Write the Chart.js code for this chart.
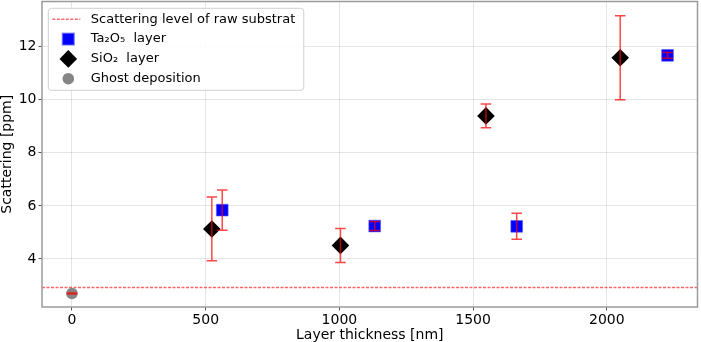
<!DOCTYPE html>
<html>
<head>
<meta charset="utf-8">
<script src="https://cdn.jsdelivr.net/npm/chart.js@4.4.1/dist/chart.umd.min.js"></script>
<style>
  html, body { margin: 0; padding: 0; background: #fff; }
  #wrap { width: 701px; height: 342px; position: relative; }
</style>
</head>
<body>
<div id="wrap"><canvas id="scatterChart"></canvas></div>
<script>
// Scattering [ppm] vs layer thickness [nm]
const TA2O5_THICKNESS = [562, 1132, 1663, 2227];
const TA2O5_SCATTER = [5.84, 5.24, 5.23, 11.67];
const TA2O5_ERR = [0.76, 0.17, 0.49, 0.11];

const SIO2_THICKNESS = [523, 1004, 1548, 2050];
const SIO2_SCATTER = [5.13, 4.51, 9.39, 11.58];
const SIO2_ERR = [1.20, 0.64, 0.45, 1.58];

const GHOST_THICKNESS = [0];
const GHOST_SCATTER = [2.70];
const GHOST_ERR = [0.02];

const SUBSTRATE_LEVEL = 2.92;

const X_TICKS = [0, 500, 1000, 1500, 2000];
const Y_TICKS = [4, 6, 8, 10, 12];
const X_RANGE = [-112, 2339];
const Y_RANGE = [2.19, 13.70];

const FONT = '"DejaVu Sans", sans-serif';
Chart.defaults.font.family = FONT;
Chart.defaults.color = '#000';

function toPoints(xs, ys) {
  return xs.map((x, i) => ({ x, y: ys[i] }));
}

// drop the label-overflow padding chart.js adds, so the plot box sits where the reference has it
function noLabelPadding(s) {
  s.paddingTop = 0; s.paddingBottom = 0; s.paddingLeft = 0; s.paddingRight = 0;
}

// red error bars with caps, drawn over the markers
const errorBars = {
  id: 'errorBars',
  afterDatasetsDraw(chart) {
    const { ctx, scales: { x, y } } = chart;
    ctx.save();
    ctx.strokeStyle = 'rgba(255,0,0,0.72)';
    ctx.lineWidth = 1.5;
    chart.data.datasets.forEach((ds, i) => {
      if (!ds.errors || !chart.isDatasetVisible(i)) return;
      ds.data.forEach((p, k) => {
        const px = x.getPixelForValue(p.x);
        const top = y.getPixelForValue(p.y + ds.errors[k]);
        const bot = y.getPixelForValue(p.y - ds.errors[k]);
        ctx.beginPath();
        ctx.moveTo(px, top); ctx.lineTo(px, bot);
        ctx.moveTo(px - 5.3, top); ctx.lineTo(px + 5.3, top);
        ctx.moveTo(px - 5.3, bot); ctx.lineTo(px + 5.3, bot);
        ctx.stroke();
      });
    });
    ctx.restore();
  }
};

// frame around the plot area plus a matplotlib-like legend in the upper left
const frameAndLegend = {
  id: 'frameAndLegend',
  afterDraw(chart) {
    const ctx = chart.ctx;
    const a = chart.chartArea;
    ctx.save();
    ctx.strokeStyle = '#9a9a9a';
    ctx.lineWidth = 1.5;
    ctx.strokeRect(a.left, a.top, a.right - a.left, a.bottom - a.top);

    const dsets = chart.data.datasets;
    ctx.font = '13px ' + FONT;
    const textW = Math.max(...dsets.map(d => ctx.measureText(d.label).width));
    const bx = a.left + 6.3, by = a.top + 6.8;
    const bw = 43 + textW + 8, bh = 82;
    ctx.fillStyle = 'rgba(255,255,255,0.85)';
    ctx.strokeStyle = '#d0d0d0';
    ctx.lineWidth = 1;
    ctx.beginPath();
    ctx.roundRect(bx, by, bw, bh, 3);
    ctx.fill();
    ctx.stroke();

    dsets.forEach((d, i) => {
      const ry = by + 11 + i * 19.8;
      const mx = bx + 20;
      if (d.type === 'line') {
        ctx.strokeStyle = d.borderColor;
        ctx.lineWidth = d.borderWidth;
        ctx.setLineDash(d.borderDash);
        ctx.beginPath();
        ctx.moveTo(bx + 4, ry); ctx.lineTo(bx + 32, ry);
        ctx.stroke();
        ctx.setLineDash([]);
      } else {
        ctx.fillStyle = d.backgroundColor;
        ctx.strokeStyle = d.borderColor;
        Chart.helpers.drawPoint(ctx, {
          pointStyle: d.pointStyle, radius: d.pointRadius, rotation: 0, borderWidth: d.borderWidth
        }, mx, ry);
      }
      ctx.fillStyle = '#000';
      ctx.textBaseline = 'middle';
      ctx.textAlign = 'left';
      ctx.fillText(d.label, bx + 42.5, ry);
    });
    ctx.restore();
  }
};

new Chart(document.getElementById('scatterChart'), {
  type: 'scatter',
  data: {
    datasets: [
      {
        type: 'line',
        label: 'Scattering level of raw substrat',
        data: X_RANGE.map(x => ({ x, y: SUBSTRATE_LEVEL })),
        borderColor: 'rgba(255,0,0,0.6)',
        borderWidth: 1.5,
        borderDash: [3, 1.5],
        pointRadius: 0,
        fill: false,
        order: 5
      },
      {
        label: 'Ta\u2082O\u2085  layer',
        data: toPoints(TA2O5_THICKNESS, TA2O5_SCATTER),
        errors: TA2O5_ERR,
        pointStyle: 'rect',
        pointRadius: 8.3,
        backgroundColor: '#0000ff',
        borderColor: 'rgba(90,90,255,0.6)',
        borderWidth: 1,
        order: 2
      },
      {
        label: 'SiO\u2082  layer',
        data: toPoints(SIO2_THICKNESS, SIO2_SCATTER),
        errors: SIO2_ERR,
        pointStyle: 'rectRot',
        pointRadius: 8.8,
        backgroundColor: '#000000',
        borderColor: '#000000',
        borderWidth: 0,
        order: 1
      },
      {
        label: 'Ghost deposition',
        data: toPoints(GHOST_THICKNESS, GHOST_SCATTER),
        errors: GHOST_ERR,
        pointStyle: 'circle',
        pointRadius: 5.8,
        backgroundColor: '#858585',
        borderColor: '#858585',
        borderWidth: 0,
        order: 3
      }
    ]
  },
  options: {
    responsive: true,
    maintainAspectRatio: false,
    animation: false,
    layout: { autoPadding: false, padding: { top: 1.5, right: 3.5, left: 0, bottom: 0 } },
    plugins: { legend: { display: false }, tooltip: { enabled: false } },
    scales: {
      x: {
        type: 'linear',
        min: X_RANGE[0],
        max: X_RANGE[1],
        afterBuildTicks: s => { s.ticks = X_TICKS.map(v => ({ value: v })); },
        afterFit: s => { s.height = 35; noLabelPadding(s); },
        border: { display: false },
        grid: {
          color: 'rgba(0,0,0,0.1)', borderDash: [2, 2], lineWidth: 1,
          tickColor: '#555', tickLength: 3.5, tickBorderDash: []
        },
        ticks: { font: { size: 14 }, padding: 1.5, maxRotation: 0, callback: v => String(v) },
        title: { display: true, text: 'Layer thickness [nm]', font: { size: 14, lineHeight: 1 }, padding: { top: 0, bottom: 0 } }
      },
      y: {
        type: 'linear',
        min: Y_RANGE[0],
        max: Y_RANGE[1],
        afterBuildTicks: s => { s.ticks = Y_TICKS.map(v => ({ value: v })); },
        afterFit: s => { s.width = 42; noLabelPadding(s); },
        border: { display: false },
        grid: {
          color: 'rgba(0,0,0,0.1)', borderDash: [2, 2], lineWidth: 1,
          tickColor: '#555', tickLength: 3.5, tickBorderDash: []
        },
        ticks: { font: { size: 14 }, padding: 2, callback: v => String(v) },
        title: { display: true, text: 'Scattering [ppm]', font: { size: 14, lineHeight: 1 }, padding: { top: 0, bottom: 0 } }
      }
    }
  },
  plugins: [errorBars, frameAndLegend]
});
</script>
</body>
</html>
